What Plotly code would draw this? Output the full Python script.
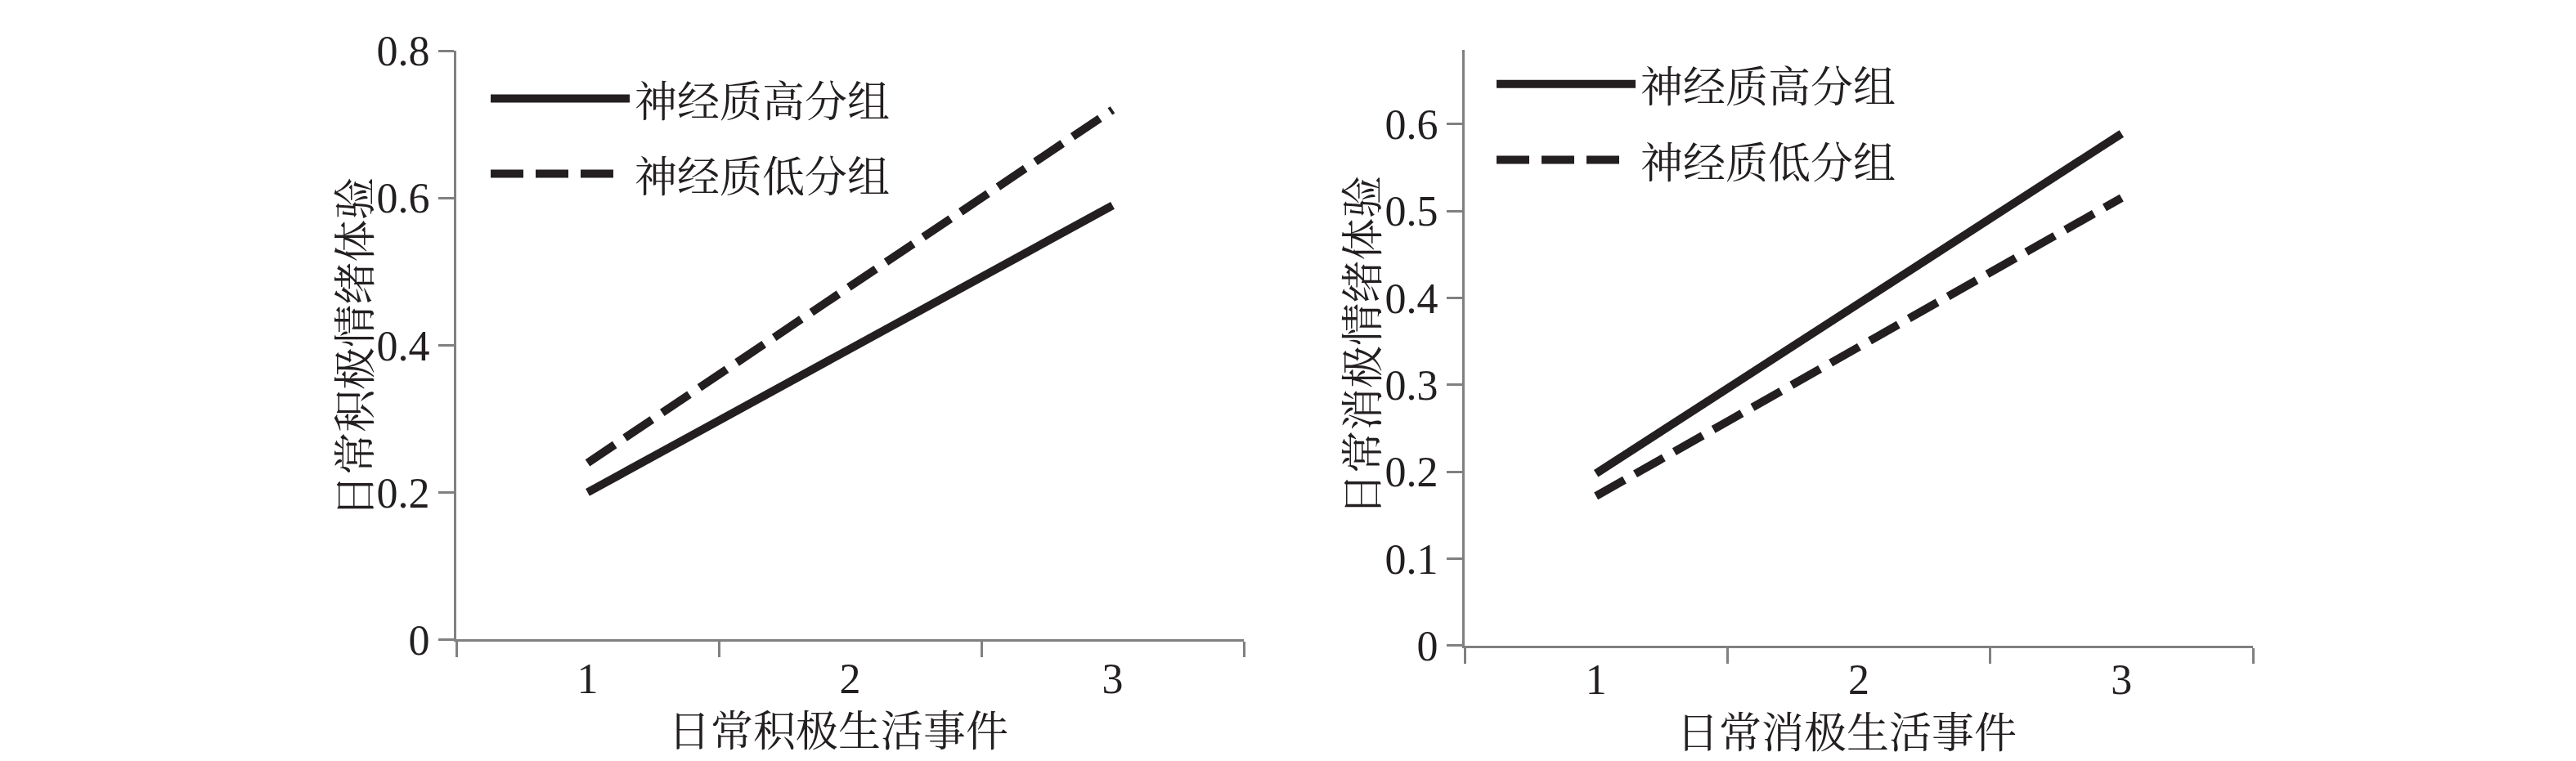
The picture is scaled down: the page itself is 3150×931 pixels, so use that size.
import plotly.graph_objects as go

# x categories (daily life events level)
events = ["1", "2", "3"]

# left panel: 日常积极情绪体验 by 日常积极生活事件
pos_high = [0.20, 0.395, 0.59]
pos_low = [0.24, 0.48, 0.72]
pos_yticks = [0, 0.2, 0.4, 0.6, 0.8]
pos_yticktext = ["0", "0.2", "0.4", "0.6", "0.8"]

# right panel: 日常消极情绪体验 by 日常消极生活事件
neg_high = [0.198, 0.394, 0.589]
neg_low = [0.172, 0.344, 0.515]
neg_yticks = [0, 0.1, 0.2, 0.3, 0.4, 0.5, 0.6]
neg_yticktext = ["0", "0.1", "0.2", "0.3", "0.4", "0.5", "0.6"]

group_names = ["神经质高分组", "神经质低分组"]

W, H = 3150, 931
INK = "#231F20"
AXIS = "#808080"
SERIF = "Liberation Serif, Times New Roman, serif"
CJK = "Noto Serif CJK SC, Noto Sans CJK SC, sans-serif"
DASH = "40px,15px"


def px_x(v):
    return v / W


def px_y(v):
    return 1 - v / H


fig = go.Figure()

for xa, ya, high, low in [("x", "y", pos_high, pos_low), ("x2", "y2", neg_high, neg_low)]:
    fig.add_trace(go.Scatter(
        x=events, y=high, mode="lines", name=group_names[0],
        line={"color": INK, "width": 10}, xaxis=xa, yaxis=ya, showlegend=False,
    ))
    fig.add_trace(go.Scatter(
        x=events, y=low, mode="lines", name=group_names[1],
        line={"color": INK, "width": 10, "dash": DASH}, xaxis=xa, yaxis=ya, showlegend=False,
    ))

xaxis_common = dict(
    type="category", categoryorder="array", categoryarray=events,
    range=[-0.5, 2.5], tickson="boundaries",
    showline=True, linecolor=AXIS, linewidth=3,
    ticks="outside", ticklen=19, tickwidth=3, tickcolor=AXIS,
    tickfont={"family": SERIF, "size": 52, "color": INK},
    showgrid=False, zeroline=False, fixedrange=True,
)
yaxis_common = dict(
    showline=True, linecolor=AXIS, linewidth=3,
    ticks="outside", ticklen=19, tickwidth=3, tickcolor=AXIS,
    tickfont={"family": SERIF, "size": 52, "color": INK},
    showgrid=False, zeroline=False, fixedrange=True,
)

fig.update_layout(
    width=W, height=H,
    margin={"l": 0, "r": 0, "t": 0, "b": 0},
    paper_bgcolor="white", plot_bgcolor="white",
    showlegend=False,
    xaxis=dict(xaxis_common, domain=[px_x(550), px_x(1513)], anchor="y"),
    yaxis=dict(yaxis_common, domain=[px_y(795), px_y(28)], anchor="x",
               range=[0, 0.8], tickvals=pos_yticks, ticktext=pos_yticktext),
    xaxis2=dict(xaxis_common, domain=[px_x(1783), px_x(2747)], anchor="y2",
                ticklabelstandoff=-6),
    yaxis2=dict(yaxis_common, domain=[px_y(803), px_y(27)], anchor="x2",
                range=[0, 0.685], tickvals=neg_yticks, ticktext=neg_yticktext),
)

# axis titles
titles = [
    ("日常积极情绪体验", 423, 414, -90),
    ("日常积极生活事件", 1017, 910, 0),
    ("日常消极情绪体验", 1655, 412, -90),
    ("日常消极生活事件", 2250, 912, 0),
]
for text, cx, cy, ang in titles:
    fig.add_annotation(
        text=text, x=px_x(cx), y=px_y(cy), xref="paper", yref="paper",
        xanchor="center", yanchor="middle", textangle=ang, showarrow=False,
        font={"family": CJK, "size": 52, "color": INK},
    )

# legend samples drawn by hand so the line samples can be long like the original
legends = [
    (592, 762, 745, 90, 188),
    (1822, 1992, 1973, 71, 170),
]
for x0, x1_solid, x1_dash, y_solid, y_dash in legends:
    for (x1, yy, dash, name) in [
        (x1_solid, y_solid, "solid", group_names[0]),
        (x1_dash, y_dash, DASH, group_names[1]),
    ]:
        fig.add_shape(
            type="line", xref="paper", yref="paper",
            x0=px_x(x0), x1=px_x(x1), y0=px_y(yy), y1=px_y(yy),
            line={"color": INK, "width": 10, "dash": dash},
        )
        fig.add_annotation(
            text=name, x=px_x(x1_solid + 4), y=px_y(yy), xref="paper", yref="paper",
            xanchor="left", yanchor="middle", showarrow=False,
            font={"family": CJK, "size": 52, "color": INK},
        )

fig.write_html("out.html")
